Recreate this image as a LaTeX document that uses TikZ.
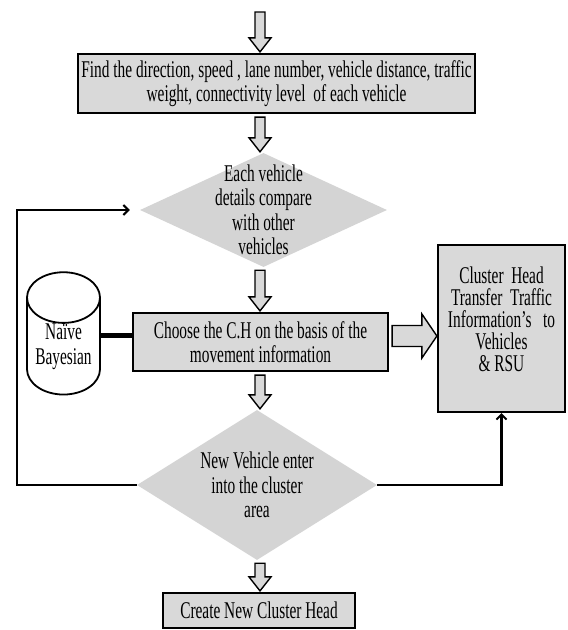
\documentclass[tikz,border=0pt]{standalone}
\usepackage{fontspec}
\newfontfamily\flowfont[FakeStretch=0.64]{Liberation Serif}
\usetikzlibrary{arrows.meta, positioning, shapes.geometric, calc}
\definecolor{boxgray}{RGB}{217,217,217}
\definecolor{diagray}{RGB}{212,212,212}
\tikzset{
  flowtext/.style={align=center, font=\flowfont\fontsize{24}{24.5}\selectfont},
  procbox/.style={flowtext, draw=black, line width=2.2pt, fill=boxgray, inner sep=0pt},
  decision/.style={diamond, fill=diagray, inner sep=0pt},
  dbcyl/.style={flowtext, cylinder, shape border rotate=90, draw=black, line width=1.8pt, fill=white, aspect=0.9, inner sep=0pt},
  hollow/.style={draw=black, line width=1.4pt, fill=boxgray, line join=miter},
  loopline/.style={line width=2.4pt, -{Straight Barb[length=5pt, width=10pt, line width=2pt]}}
}
% hollow block arrows
\newcommand{\hollowdown}[2]{%
  \draw[hollow] let \p1=(#1 -| spine), \p2=(#2 -| spine) in
    (\x1-5pt,\y1-3pt) -- (\x1+5pt,\y1-3pt) -- (\x1+5pt,\y2+15pt) -- (\x1+11pt,\y2+15pt)
    -- (\x1,\y2+1pt) -- (\x1-11pt,\y2+15pt) -- (\x1-5pt,\y2+15pt) -- cycle;}
\newcommand{\hollowright}[2]{%
  \draw[hollow] let \p1=(#1), \p2=(#2) in
    (\x1+3pt,\y1+16.5pt) -- (\x2-15pt,\y1+16.5pt) -- (\x2-15pt,\y1+28pt) -- (\x2,\y1+6pt)
    -- (\x2-15pt,\y1-16pt) -- (\x2-15pt,\y1-4.5pt) -- (\x1+3pt,\y1-4.5pt) -- cycle;}

\begin{document}
\begin{tikzpicture}[x=1pt, y=-1pt]
        \useasboundingbox (0,0) rectangle (568,630);
        \coordinate (spine) at (260,0);
        \coordinate (start) at (260,9);
        \coordinate (loopx) at (17,0);

        % Box 1 (top, wide)
        \node[procbox, minimum width=397pt, minimum height=59pt] (find) at (276.5,83.5)
          {Find the direction, speed , lane number, vehicle distance, traffic\\weight, connectivity level\ \ of each vehicle};

        % Diamond 1 (compare)
        \node[decision, minimum width=247pt, minimum height=114pt,
          label={[flowtext]center:{Each vehicle\\details compare\\with other\\vehicles}}] (compare) at (263.5,210) {};

        % Cylinder (left)
        \node[dbcyl, minimum width=73pt, minimum height=120pt] (bayes) at (63.5,346.5) {Naïve\\Bayesian};

        % Box 2 (middle)
        \node[procbox, minimum width=255pt, minimum height=58pt] (choose) at (260.5,342)
          {Choose the C.H on the basis of the\\movement information};

        % Box 3 (right, tall)
        \node[procbox, minimum width=127pt, minimum height=167pt,
          label={[flowtext, yshift=9pt, font=\flowfont\fontsize{24}{22}\selectfont]center:{Cluster\ \ Head\\Transfer\ \ Traffic\\Information’s\ \ \ to\\Vehicles\\\& RSU}}] (transfer) at (501.5,328.5) {};

        % Diamond 2 (new vehicle)
        \node[decision, minimum width=240pt, minimum height=150pt,
          label={[flowtext]center:{New Vehicle enter\\into the cluster\\area}}] (newveh) at (257,485) {};

        % Box 4 (bottom)
        \node[procbox, minimum width=192pt, minimum height=35pt] (create) at (259,610.5) {Create New Cluster Head};

        % block arrows
        \hollowdown{start}{find.north}
        \hollowdown{find.south}{compare.north}
        \hollowdown{compare.south}{choose.north}
        \hollowdown{choose.south}{newveh.north}
        \hollowdown{newveh.south}{create.north}
        \hollowright{choose.east}{transfer.west}

        % plain connectors
        \draw[line width=5pt] ([yshift=11.5pt]bayes.east) -- ([yshift=11.5pt]bayes.east -| choose.west);
        \draw[loopline, shorten >=10pt] (newveh.west) -- (newveh.west -| loopx) |- (compare.west);
        \draw[loopline] (newveh.east) -| (transfer.south);
\end{tikzpicture}
\end{document}
